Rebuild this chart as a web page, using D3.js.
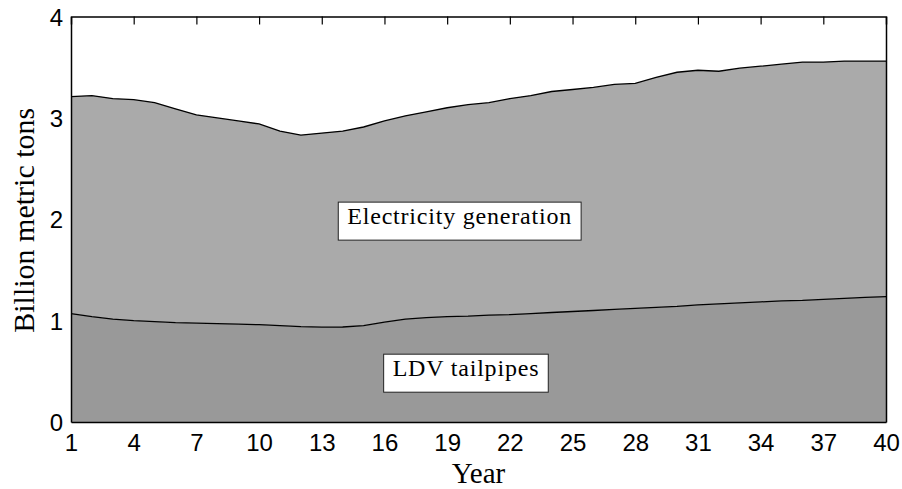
<!DOCTYPE html>
<html><head><meta charset="utf-8">
<script src="https://cdn.jsdelivr.net/npm/d3@7"></script>
<style>body{margin:0;background:#fff;}svg{display:block;}</style>
</head><body>
<script>
const years = d3.range(1, 41);
const ldv = [1.07,1.04,1.015,1.00,0.99,0.98,0.975,0.97,0.965,0.96,0.95,0.94,0.935,0.937,0.95,0.985,1.015,1.03,1.04,1.045,1.055,1.06,1.07,1.08,1.09,1.10,1.11,1.12,1.13,1.14,1.155,1.165,1.175,1.185,1.195,1.20,1.21,1.22,1.23,1.236];
const total = [3.21,3.22,3.19,3.18,3.15,3.09,3.03,3.00,2.97,2.94,2.87,2.83,2.85,2.87,2.91,2.97,3.02,3.06,3.10,3.13,3.15,3.19,3.22,3.26,3.28,3.30,3.33,3.34,3.40,3.45,3.47,3.46,3.49,3.51,3.53,3.55,3.55,3.56,3.56,3.56];
const electricity = total.map((t, i) => +(t - ldv[i]).toFixed(3));
const xTicks = [1,4,7,10,13,16,19,22,25,28,31,34,37,40];
const yTicks = [0,1,2,3,4];
const seriesNames = ["LDV tailpipes", "Electricity generation"];
const seriesColors = ["#999999", "#aaaaaa"];
const labelPos = [{year: 19.9, value: 0.53}, {year: 19.6, value: 2.03}];

const W = 902, H = 489;
const m = {left: 71, right: 16, top: 16.5, bottom: 67};
const svg = d3.select("body").append("svg").attr("width", W).attr("height", H);
const x = d3.scaleLinear().domain([1, 40]).range([m.left, W - m.right]);
const y = d3.scaleLinear().domain([0, 4]).range([H - m.bottom, m.top]);

const rows = years.map((yr, i) => ({year: yr, ldv: ldv[i], elec: electricity[i]}));
const stack = d3.stack().keys(["ldv", "elec"])(rows);

const area = d3.area().x(d => x(d.data.year)).y0(d => y(d[0])).y1(d => y(d[1]));
const line = d3.line().x(d => x(d.data.year)).y(d => y(d[1]));

svg.selectAll("path.area").data(stack).join("path")
  .attr("class", "area").attr("d", area).attr("fill", (d, i) => seriesColors[i]);
svg.selectAll("path.edge").data(stack).join("path")
  .attr("class", "edge").attr("d", line).attr("fill", "none")
  .attr("stroke", "#000").attr("stroke-width", 1.3);

// axes box
const axW = 1.5;
const xb = svg.append("g").attr("transform", `translate(0,${y(0)})`)
  .call(d3.axisBottom(x).tickValues(xTicks).tickSize(0).tickPadding(12).tickFormat(d3.format("d")));
const xt = svg.append("g").attr("transform", `translate(0,${y(4)})`)
  .call(d3.axisBottom(x).tickValues(xTicks).tickSize(8).tickFormat(""));
const yl = svg.append("g").attr("transform", `translate(${x(1)},0)`)
  .call(d3.axisLeft(y).tickValues(yTicks).tickSize(0).tickPadding(8).tickFormat(d3.format("d")));
const yr = svg.append("g").attr("transform", `translate(${x(40)},0)`)
  .call(d3.axisLeft(y).tickValues(yTicks).tickSize(0).tickFormat(""));
[xb, xt, yl, yr].forEach(g => {
  g.select(".domain").attr("stroke", "#000").attr("stroke-width", axW);
  g.selectAll(".tick line").attr("stroke", "#000").attr("stroke-width", 1.2);
  g.selectAll("text").attr("font-family", "'Liberation Sans', Arial, sans-serif")
    .attr("font-size", 24).attr("fill", "#000");
});
xt.selectAll(".tick").filter(d => d === 1 || d === 40).remove();
xb.selectAll(".tick text").attr("dy", "0.71em");
yl.selectAll(".tick text").attr("dy", "0.36em");

// labels with boxes
seriesNames.forEach((name, i) => {
  const g = svg.append("g").attr("transform", `translate(${x(labelPos[i].year)},${y(labelPos[i].value)})`);
  const t = g.append("text").text(name).attr("text-anchor", "middle").attr("dy", "0.33em")
    .attr("font-family", "'Liberation Serif', 'Times New Roman', serif").attr("font-size", 24)
    .attr("letter-spacing", 0.8).attr("fill", "#000");
  const bb = t.node().getBBox();
  g.insert("rect", "text").attr("x", bb.x - 9).attr("y", bb.y - 1)
    .attr("width", bb.width + 18).attr("height", bb.height + 12)
    .attr("fill", "#fff").attr("stroke", "#222").attr("stroke-width", 1);
});

svg.append("text").text("Year").attr("x", (x(1) + x(40)) / 2).attr("y", 483)
  .attr("text-anchor", "middle").attr("font-family", "'Liberation Serif', 'Times New Roman', serif")
  .attr("font-size", 29).attr("fill", "#000");
svg.append("text").text("Billion metric tons")
  .attr("transform", `translate(34,${(y(0) + y(4)) / 2 + 1}) rotate(-90)`)
  .attr("text-anchor", "middle").attr("font-family", "'Liberation Serif', 'Times New Roman', serif")
  .attr("font-size", 30).attr("fill", "#000");
</script>
</body></html>
